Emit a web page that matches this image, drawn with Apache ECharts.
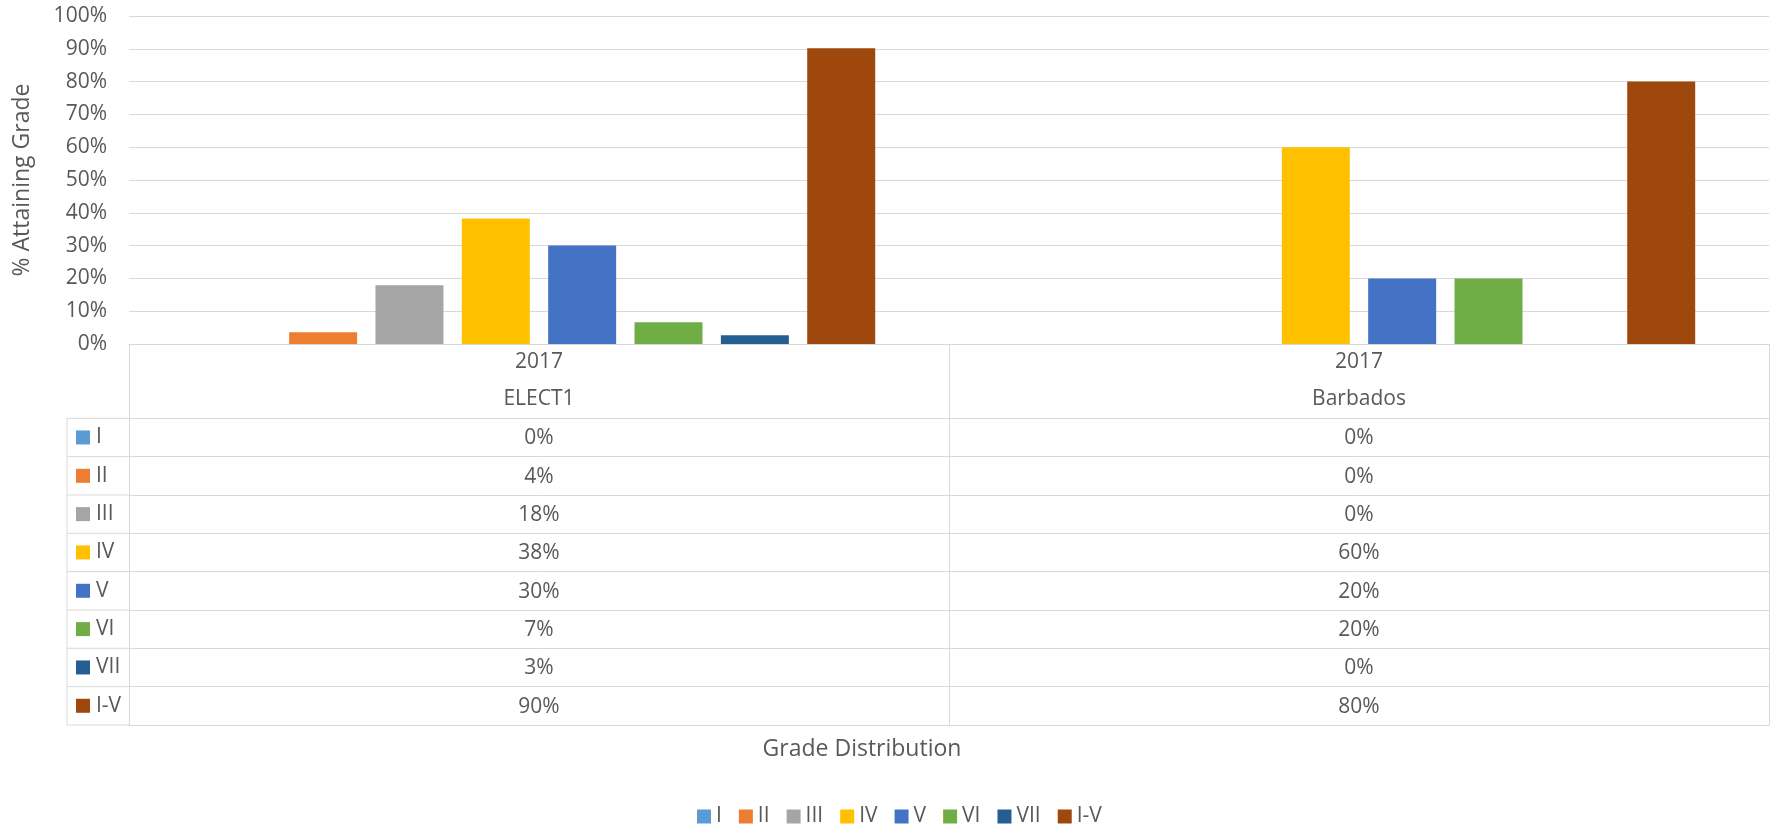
<!DOCTYPE html>
<html>
<head>
<meta charset="utf-8">
<script src="https://cdn.jsdelivr.net/npm/echarts@6/dist/echarts.min.js"></script>
<style>
  html, body { margin: 0; padding: 0; background: #fff; }
  #chart { width: 1771px; height: 827px; }
</style>
</head>
<body>
<div id="chart"></div>
<script>
// data
const year = '2017'
const regions = ['ELECT1', 'Barbados']
const grades = ['I', 'II', 'III', 'IV', 'V', 'VI', 'VII', 'I-V']
const gradeColors = ['#5b9bd5', '#ed7d31', '#a5a5a5', '#ffc000', '#4472c4', '#70ad47', '#255e91', '#9e480e']
const elect1 = [0, 3.6, 17.9, 38.3, 30, 6.6, 2.7, 90.2]
const barbados = [0, 0, 0, 60, 20, 20, 0, 80]
const byRegion = [elect1, barbados]

// layout
const PLOT_L = 129
const PLOT_R = 1769
const PLOT_T = 16
const PLOT_B = 344
const TABLE_L = 67
const HEAD_H = 74.3
const ROW_H = 38.33
const TEXT = '#595959'
const LINE = '#d9d9d9'
const FONT = '"Open Sans", "Liberation Sans", sans-serif'

const fmt = v => Math.round(v) + '%'

const chart = echarts.init(document.getElementById('chart'))

// main category axis: header row of the data table
const xAxes = [{
  type: 'category',
  data: regions,
  position: 'bottom',
  axisLine: { onZero: false, lineStyle: { color: LINE, width: 1 } },
  axisTick: { show: true, length: HEAD_H + grades.length * ROW_H, lineStyle: { color: LINE, width: 1 } },
  axisLabel: {
    formatter: v => year + '\n' + v,
    margin: 0,
    lineHeight: 37,
    fontSize: 21,
    fontFamily: FONT,
    color: TEXT,
  },
}]

// one extra axis per table row, showing the rounded values
grades.forEach((g, i) => {
  xAxes.push({
    type: 'category',
    data: regions,
    position: 'bottom',
    offset: HEAD_H + i * ROW_H,
    axisLine: { onZero: false, lineStyle: { color: LINE, width: 1 } },
    axisTick: { show: false },
    axisLabel: {
      formatter: (v, idx) => fmt(byRegion[idx][i]),
      margin: ROW_H / 2 + 1,
      verticalAlign: 'middle',
      fontSize: 21,
      fontFamily: FONT,
      color: TEXT,
    },
  })
})

// bottom border of the table
xAxes.push({
  type: 'category',
  data: regions,
  position: 'bottom',
  offset: HEAD_H + grades.length * ROW_H,
  axisLine: { onZero: false, lineStyle: { color: LINE, width: 1 } },
  axisTick: { show: false },
  axisLabel: { show: false },
})

// legend column of the table
const graphics = []
const firstRow = PLOT_B + HEAD_H
for (let i = 0; i <= grades.length; i++) {
  const y = firstRow + i * ROW_H
  graphics.push({ type: 'line', shape: { x1: TABLE_L, y1: y, x2: PLOT_L, y2: y }, style: { stroke: LINE, lineWidth: 1 } })
}
graphics.push({ type: 'line', shape: { x1: TABLE_L, y1: firstRow, x2: TABLE_L, y2: firstRow + grades.length * ROW_H }, style: { stroke: LINE, lineWidth: 1 } })
grades.forEach((g, i) => {
  const cy = firstRow + i * ROW_H + ROW_H / 2
  graphics.push({ type: 'rect', shape: { x: 76, y: cy - 7, width: 14, height: 14 }, style: { fill: gradeColors[i] } })
  graphics.push({ type: 'text', x: 96, y: cy, style: { text: g, fill: TEXT, font: '21px ' + FONT, verticalAlign: 'middle' } })
})
graphics.push({
  type: 'text', x: 862, y: 749,
  style: { text: 'Grade Distribution', fill: TEXT, font: '23px ' + FONT, align: 'center', verticalAlign: 'middle' },
})

const options = {
  animation: false,
  grid: {
    left: PLOT_L,
    right: 1771 - PLOT_R,
    top: PLOT_T,
    bottom: 827 - PLOT_B,
    outerBoundsMode: 'none',
  },
  legend: {
    data: grades,
    left: 692,
    top: 801,
    itemWidth: 14,
    itemHeight: 14,
    itemGap: 17,
    icon: 'rect',
    textStyle: { fontSize: 21, fontFamily: FONT, color: TEXT },
  },
  xAxis: xAxes,
  yAxis: {
    type: 'value',
    min: 0,
    max: 100,
    interval: 10,
    name: '% Attaining Grade',
    nameLocation: 'middle',
    nameGap: 95,
    nameTextStyle: { fontSize: 23, fontFamily: FONT, color: TEXT },
    axisLine: { show: false },
    axisTick: { show: false },
    axisLabel: { formatter: '{value}%', margin: 22, fontSize: 21, fontFamily: FONT, color: TEXT },
    splitLine: { lineStyle: { color: LINE, width: 1 } },
  },
  series: grades.map((g, i) => ({
    name: g,
    type: 'bar',
    xAxisIndex: 0,
    data: byRegion.map(r => r[i]),
    itemStyle: { color: gradeColors[i] },
    barGap: '27%',
    barCategoryGap: '18%',
  })),
  graphic: graphics,
}

chart.setOption(options)
</script>
</body>
</html>
